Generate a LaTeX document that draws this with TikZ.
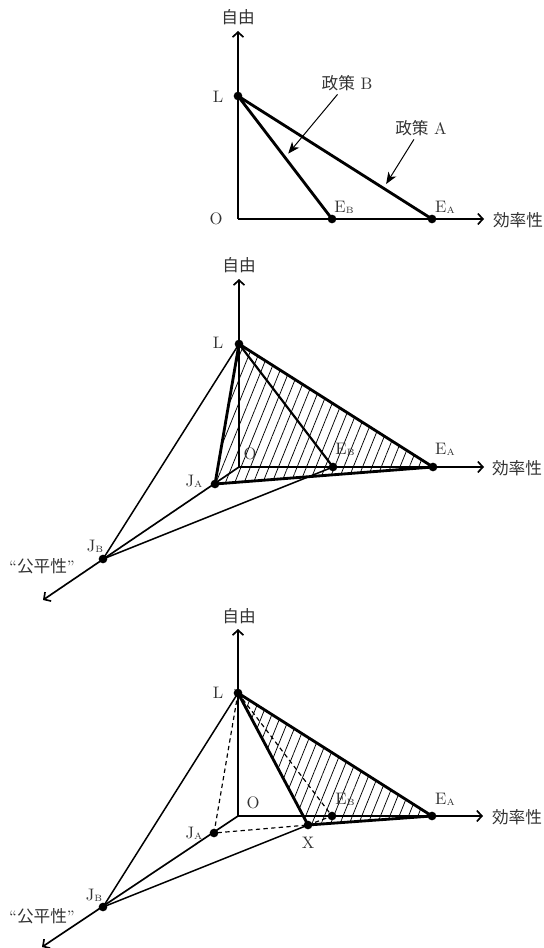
\documentclass[tikz,border=0pt]{standalone}
\usepackage{fontspec}
\newfontfamily\jpfont{Noto Sans CJK JP}
\usepackage{tikz}
\usetikzlibrary{arrows.meta,patterns.meta,positioning,calc}

% letter with a small lowered index, as E_A
\newcommand{\ptlab}[2]{#1{\fontsize{5.5}{6}\selectfont\raisebox{-0.3ex}{#2}}}

\begin{document}
\begin{tikzpicture}[x=0.6pt,y=-0.6pt,
    axis/.style={line width=1pt,-{Straight Barb[length=3pt,width=6.5pt]}},
    bold/.style={line width=1.7pt},
    mid/.style={line width=1.3pt},
    thin/.style={line width=0.9pt},
    hid/.style={line width=0.7pt,dash pattern=on 2.6pt off 2pt},
    pointer/.style={line width=0.6pt,-{Stealth[length=7pt,width=5.5pt,inset=2pt]}},
    hatch/.style={pattern={Lines[angle=68,distance=5.2pt,line width=0.45pt]}},
    lbl/.style={inner sep=0pt,text=black!80,font=\fontsize{10}{12}\selectfont},
    jlbl/.style={inner sep=0pt,text=black!80,font=\jpfont\fontsize{10}{12}\selectfont}]
  \useasboundingbox (0,0) rectangle (544,948);

  % ---------- top: two policies in the plane
  \coordinate (O1) at (238,219);
  \coordinate (Y1) at (238,31);
  \coordinate (X1) at (484,219);
  \coordinate (L1) at (238,96);
  \coordinate (EB1) at (332,219);
  \coordinate (EA1) at (432,219);
  \draw[axis] (O1) -- (Y1);
  \draw[axis] (O1) -- (X1);
  \draw[bold] (L1) -- (EB1);                 % policy B
  \draw[bold] (L1) -- (EA1);                 % policy A
  \node[jlbl] (yl1) at (238,17) {自由};
  \node[jlbl] (xl1) at (518,220) {効率性};
  \node[lbl] (Ll1) at (218,97) {L};
  \node[lbl] (Ol1) at (216,219) {O};
  \node[lbl] (EBl1) at (344,207) {\ptlab{E}{B}};
  \node[lbl] (EAl1) at (445,207) {\ptlab{E}{A}};
  \node[lbl,inner sep=2pt] (polB) at (347,83) {{\jpfont 政策} B};
  \node[lbl,inner sep=2pt] (polA) at (421,128) {{\jpfont 政策} A};
  \coordinate (tipB) at ($(L1)!0.5!(EB1)$);
  \coordinate (tipA) at ($(L1)!0.75!(EA1)$);
  \draw[pointer,shorten >=3pt] (polB) -- (tipB);
  \draw[pointer,shorten >=3pt] (polA) -- (tipA);

  % ---------- middle: "fairness" axis added
  \coordinate (O2) at (239,467);
  \coordinate (Y2) at (239,279);
  \coordinate (X2) at (484,467);
  \coordinate (Z2) at (43,600);
  \coordinate (L2) at (239,344);
  \coordinate (EB2) at (333,467);
  \coordinate (EA2) at (433,467);
  \coordinate (JA2) at (215,484);
  \coordinate (JB2) at (103,559);
  \fill[hatch] (L2) -- (JA2) -- (EA2) -- cycle;
  \draw[axis] (O2) -- (Y2);
  \draw[axis] (O2) -- (X2);
  \draw[axis] (O2) -- (Z2);
  \draw[thin] (L2) -- (JB2) -- (EB2);
  \draw[mid] (L2) -- (EB2);
  \draw[bold] (L2) -- (JA2) -- (EA2) -- cycle;
  \node[jlbl] (yl2) at (239,265) {自由};
  \node[jlbl] (xl2) at (517,468) {効率性};
  \node[lbl] (zl2) at (42,566) {``{\jpfont 公平性}''};
  \node[lbl] (Ll2) at (218,343) {L};
  \node[lbl] (Ol2) at (250,454) {O};
  \node[lbl] (EBl2) at (345,449) {\ptlab{E}{B}};
  \node[lbl] (EAl2) at (445,449) {\ptlab{E}{A}};
  \node[lbl] (JAl2) at (194,481) {\ptlab{J}{A}};
  \node[lbl] (JBl2) at (95,546) {\ptlab{J}{B}};

  % ---------- bottom: compromise point X
  \coordinate (O3) at (238,816);
  \coordinate (Y3) at (238,629);
  \coordinate (X3) at (483,816);
  \coordinate (Z3) at (42,947);
  \coordinate (L3) at (238,693);
  \coordinate (EB3) at (332,816);
  \coordinate (EA3) at (432,816);
  \coordinate (JA3) at (214,833);
  \coordinate (JB3) at (103,907);
  \coordinate (X) at (308,825);
  \fill[hatch] (L3) -- (X) -- (EA3) -- cycle;
  \draw[axis] (O3) -- (Y3);
  \draw[axis] (O3) -- (X3);
  \draw[axis] (O3) -- (Z3);
  \draw[thin] (L3) -- (JB3) -- (X);
  \draw[hid] (L3) -- (JA3) -- (X);
  \draw[hid] (L3) -- (EB3) -- (X);
  \draw[bold] (L3) -- (X) -- (EA3) -- cycle;
  \node[jlbl] (yl3) at (239,616) {自由};
  \node[jlbl] (xl3) at (517,817) {効率性};
  \node[lbl] (zl3) at (42,916) {``{\jpfont 公平性}''};
  \node[lbl] (Ll3) at (218,693) {L};
  \node[lbl] (Ol3) at (253,803) {O};
  \node[lbl] (EBl3) at (345,799) {\ptlab{E}{B}};
  \node[lbl] (EAl3) at (445,799) {\ptlab{E}{A}};
  \node[lbl] (JAl3) at (194,833) {\ptlab{J}{A}};
  \node[lbl] (Xl3) at (308,843) {X};
  \node[lbl] (JBl3) at (94,895) {\ptlab{J}{B}};

  % points
  \foreach \p in {L1,EB1,EA1,L2,EB2,EA2,JA2,JB2,L3,EB3,EA3,JA3,JB3,X}
    \fill (\p) circle (2.6pt);
\end{tikzpicture}
\end{document}
